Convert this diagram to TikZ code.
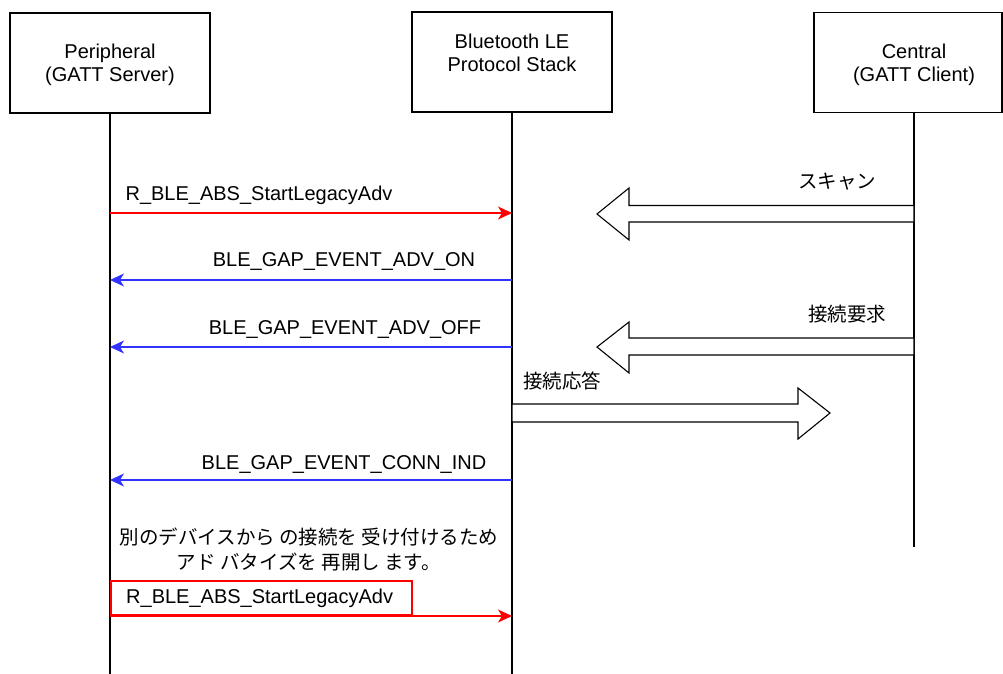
\documentclass[tikz,border=0pt]{standalone}
\usepackage{fontspec}
\setmainfont{Liberation Sans}
\newfontfamily\cjk{Noto Sans CJK JP}
\usetikzlibrary{arrows.meta}
\definecolor{redline}{RGB}{255,0,0}
\definecolor{blueline}{RGB}{51,51,255}
\begin{document}
\begin{tikzpicture}[x=1pt,y=-1pt,
  font=\fontsize{20}{23}\selectfont,
  actor/.style={draw,line width=1.1pt,minimum width=200pt,minimum height=100pt,align=center,inner sep=0pt},
  life/.style={line width=1.1pt},
  reqarrow/.style={draw=redline,line width=1.1pt,-{Stealth[length=14pt,width=13pt,inset=4pt]}},
  evtarrow/.style={draw=blueline,line width=1.1pt,-{Stealth[length=14pt,width=13pt,inset=4pt]}},
  lbl/.style={inner sep=0pt,anchor=center},
  jp/.style={font=\fontsize{19.5}{25}\selectfont\cjk},
  blockarrow/.style={draw,fill=white,line width=1.1pt,line join=miter}
]
\useasboundingbox (0,0) rectangle (1003,674);
% actors
\node[actor] (per) at (110,63) {};
\node[lbl,align=center] (pertxt) at (110,65) {Peripheral\\(GATT Server)};
\node[actor] (stk) at (512,62) {};
\node[lbl,align=center] (stktxt) at (512,53) {Bluetooth LE\\Protocol Stack};
\node[actor,minimum width=188pt] (cen) at (908,62.5) {};
\node[lbl,align=center] (centxt) at (914,64.5) {Central\\(GATT Client)};
% lifelines
\coordinate (censtart) at (914,112.5);
\coordinate (perend) at (110,674);
\coordinate (stkend) at (512,674);
\coordinate (cenend) at (914,547);
\draw[life] (per.south) -- (perend);
\draw[life] (stk.south) -- (stkend);
\draw[life] (censtart) -- (cenend);
% lifeline anchor points
\coordinate (p1) at (110,213); \coordinate (s1) at (512,213);
\coordinate (p2) at (110,280); \coordinate (s2) at (512,280);
\coordinate (p3) at (110,347); \coordinate (s3) at (512,347);
\coordinate (p4) at (110,480); \coordinate (s4) at (512,480);
\coordinate (p5) at (110,616); \coordinate (s5) at (512,616);
% messages
\draw[reqarrow] (p1) -- (s1);
\node[lbl] (l1) at (259,195) {R\_BLE\_ABS\_StartLegacyAdv};
\draw[evtarrow] (s2) -- (p2);
\node[lbl] (l2) at (344,262) {BLE\_GAP\_EVENT\_ADV\_ON};
\draw[evtarrow] (s3) -- (p3);
\node[lbl] (l3) at (345,330) {BLE\_GAP\_EVENT\_ADV\_OFF};
\draw[evtarrow] (s4) -- (p4);
\node[lbl] (l4) at (344,464) {BLE\_GAP\_EVENT\_CONN\_IND};
% note
\node[lbl,align=center,jp] (note) at (309,549.5) {別のデバイスから の接続を 受け付けるため\\アド バタイズを 再開し ます。};
\node[draw=redline,color=redline,line width=1.1pt,minimum width=301pt,minimum height=34pt,inner sep=0pt] (rbox) at (261.5,598) {};
\node[lbl,anchor=west,text=black] (l5) at (126,598) {R\_BLE\_ABS\_StartLegacyAdv};
\draw[reqarrow] (p5) -- (s5);
% block arrows
\draw[blockarrow] (914,205.5) -- (629,205.5) -- (629,188) -- (597,214) -- (629,240) -- (629,222) -- (914,222) -- cycle;
\node[lbl,jp] (scan) at (837,182) {スキャン};
\draw[blockarrow] (914,338) -- (629,338) -- (629,322) -- (597,347) -- (629,373) -- (629,355) -- (914,355) -- cycle;
\node[lbl,jp] (req) at (847,314) {接続要求};
\draw[blockarrow] (512,404) -- (798,404) -- (798,388) -- (830,413) -- (798,439) -- (798,422) -- (512,422) -- cycle;
\node[lbl,jp] (rsp) at (562,381) {接続応答};
\end{tikzpicture}
\end{document}
